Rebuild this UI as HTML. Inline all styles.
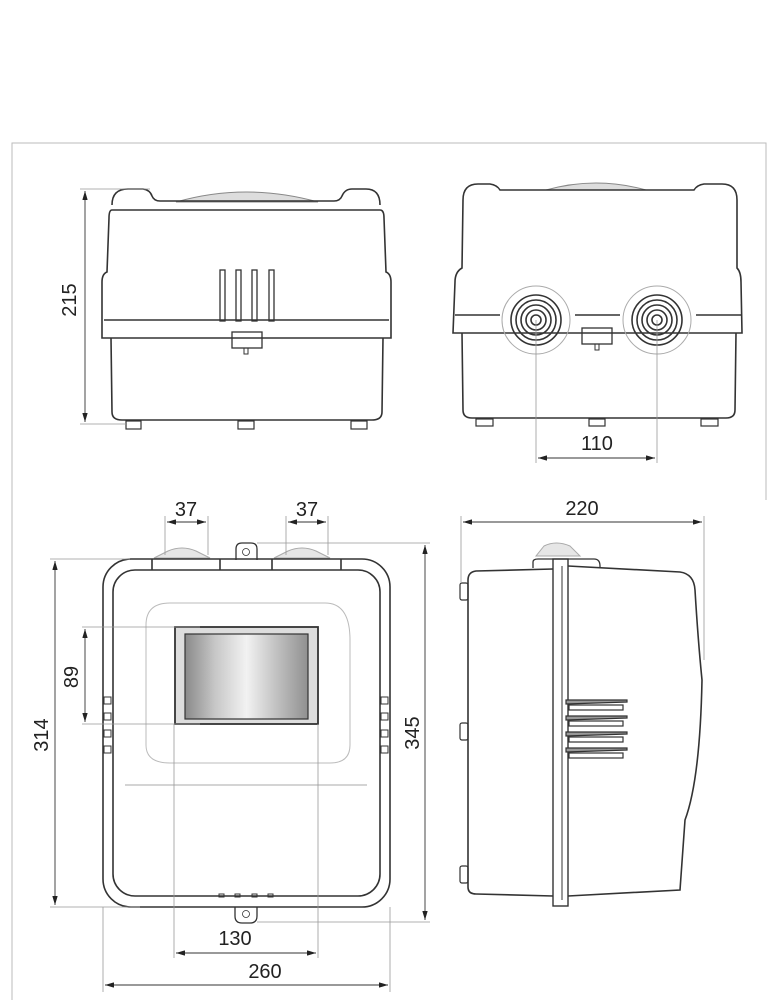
<!DOCTYPE html>
<html><head><meta charset="utf-8"><style>
html,body{margin:0;padding:0;background:#fff;}
svg{display:block;}
text{font-family:"Liberation Sans",sans-serif;font-size:20px;fill:#222;}
</style></head><body>
<svg width="780" height="1000" viewBox="0 0 780 1000" xmlns="http://www.w3.org/2000/svg">
<defs>
<marker id="a" viewBox="0 0 10 6" refX="10" refY="3" markerWidth="10" markerHeight="6" orient="auto-start-reverse"><path d="M0,0 L10,3 L0,6 z" fill="#222"/></marker>
<linearGradient id="g" x1="0" x2="1" y1="0" y2="0">
<stop offset="0" stop-color="#8a8a8a"/><stop offset="0.25" stop-color="#c8c8c8"/><stop offset="0.5" stop-color="#f2f2f2"/><stop offset="0.75" stop-color="#c0c0c0"/><stop offset="1" stop-color="#909090"/></linearGradient>
</defs>
<path d="M12,1000 L12,143 L766,143 L766,500" fill="none" stroke="#bbb" stroke-width="1"/>
<g fill="none" stroke="#333" stroke-width="1.6">
<!-- View 1 -->
<path d="M176,202 Q246,182 318,202 Z" fill="#ddd" stroke="#888" stroke-width="1"/>
<path d="M112,205 Q112,189 128,189 L143,189 Q150,190 152,196 Q154,201 160,201 L334,201 Q340,201 342,196 Q345,189 352,189 L366,189 Q380,189 380,205"/>
<path d="M112,210 L380,210 Q384,210 384,218 L386,272 Q391,274 391,282 L391,338 L102,338 L102,282 Q102,274 107,272 L109,218 Q109,210 112,210"/>
<line x1="104" y1="320" x2="389" y2="320"/>
<path d="M111,338 L112,412 Q112,420 122,420 L372,420 Q382,420 382,412 L383,338"/>
<rect x="220" y="270" width="5" height="51" stroke-width="1.3"/>
<rect x="236" y="270" width="5" height="51" stroke-width="1.3"/>
<rect x="252" y="270" width="5" height="51" stroke-width="1.3"/>
<rect x="269" y="270" width="5" height="51" stroke-width="1.3"/>
<rect x="232" y="332" width="30" height="16" stroke-width="1.3"/>
<rect x="244" y="348" width="4" height="6" stroke-width="1"/>
<rect x="126" y="421" width="15" height="8" stroke-width="1.2"/>
<rect x="238" y="421" width="16" height="8" stroke-width="1.2"/>
<rect x="351" y="421" width="16" height="8" stroke-width="1.2"/>
<!-- View 2 -->
<path d="M546,190 Q596,176 646,190 Z" fill="#ddd" stroke="#888" stroke-width="1"/>
<path d="M463,200 Q463,184 478,184 L490,184 Q497,185 500,190 L694,190 Q697,185 704,184 L722,184 Q737,184 737,200"/>
<path d="M463,200 L462,268 Q455,272 455,282 L453,333 L742,333 L741,282 Q741,272 737,268 L737,200"/>
<line x1="455" y1="315" x2="500" y2="315"/><line x1="696" y1="315" x2="741" y2="315"/>
<line x1="575" y1="315" x2="620" y2="315"/>
<path d="M462,333 L463,410 Q463,418 472,418 L726,418 Q735,418 735,410 L736,333"/>
<circle cx="536" cy="320" r="34" stroke="#aaa" stroke-width="1"/>
<circle cx="657" cy="320" r="34" stroke="#aaa" stroke-width="1"/>
<g stroke-width="1.6">
<circle cx="536" cy="320" r="25"/><circle cx="536" cy="320" r="20"/><circle cx="536" cy="320" r="15"/><circle cx="536" cy="320" r="10"/><circle cx="536" cy="320" r="5"/>
<circle cx="657" cy="320" r="25"/><circle cx="657" cy="320" r="20"/><circle cx="657" cy="320" r="15"/><circle cx="657" cy="320" r="10"/><circle cx="657" cy="320" r="5"/>
</g>
<rect x="582" y="328" width="30" height="16" stroke-width="1.3"/>
<rect x="595" y="344" width="4" height="6" stroke-width="1"/>
<rect x="476" y="419" width="17" height="7" stroke-width="1.2"/>
<rect x="589" y="419" width="16" height="7" stroke-width="1.2"/>
<rect x="701" y="419" width="17" height="7" stroke-width="1.2"/>
<!-- View 3 front -->
<path d="M168,551 Q182,545 196,551 L210,558 L154,558 Z" fill="#e6e6e6" stroke="#aaa" stroke-width="1"/>
<path d="M288,551 Q302,545 316,551 L330,558 L274,558 Z" fill="#e6e6e6" stroke="#aaa" stroke-width="1"/>
<path d="M236,560 L236,549 Q236,543 242,543 L251,543 Q257,543 257,549 L257,560" stroke-width="1.3"/>
<circle cx="246" cy="552" r="3.5" stroke-width="0.8"/>
<rect x="103" y="559" width="287" height="348" rx="28"/>
<rect x="113" y="570" width="267" height="326" rx="22"/>
<line x1="152" y1="559" x2="152" y2="570"/><line x1="220" y1="559" x2="220" y2="570"/>
<line x1="272" y1="559" x2="272" y2="570"/><line x1="341" y1="559" x2="341" y2="570"/>
<path d="M146,625 Q146,603 170,603 L325,603 Q350,603 350,640 L350,745 Q350,763 330,763 L170,763 Q146,763 146,745 Z" stroke="#bbb" stroke-width="1"/>
<rect x="175" y="627" width="143" height="97" fill="#ddd" stroke-width="1.8"/>
<rect x="185" y="634" width="123" height="85" fill="url(#g)" stroke-width="1.2"/>
<line x1="125" y1="785" x2="367" y2="785" stroke="#aaa" stroke-width="1"/>
<g stroke-width="1">
<rect x="104" y="697" width="7" height="7"/><rect x="104" y="713" width="7" height="7"/><rect x="104" y="730" width="7" height="7"/><rect x="104" y="746" width="7" height="7"/>
<rect x="381" y="697" width="7" height="7"/><rect x="381" y="713" width="7" height="7"/><rect x="381" y="730" width="7" height="7"/><rect x="381" y="746" width="7" height="7"/>
<rect x="219" y="894" width="5" height="3"/><rect x="235" y="894" width="5" height="3"/><rect x="252" y="894" width="5" height="3"/><rect x="268" y="894" width="5" height="3"/>
</g>
<path d="M235,907 L235,916 Q235,923 242,923 L250,923 Q257,923 257,916 L257,907" stroke-width="1.3"/>
<circle cx="246" cy="914" r="3.5" stroke-width="0.8"/>
<!-- View 4 side -->
<path d="M544,546 Q556,540 570,546 L580,556 L536,556 Z" fill="#e6e6e6" stroke="#aaa" stroke-width="1"/>
<path d="M533,568 L533,562 Q533,559 538,559 L594,559 Q600,559 600,566 L600,568" stroke-width="1.3"/>
<path d="M553,569 L476,571 Q468,572 468,580 L468,887 Q468,894 476,894 L553,896"/>
<path d="M568,566 L680,572 Q694,574 695,590 Q698,640 702,680 Q700,780 685,820 L680,890 L568,896"/>
<rect x="553" y="559" width="15" height="347" stroke-width="1.4"/>
<line x1="562" y1="566" x2="562" y2="900" stroke-width="1"/>
<rect x="460" y="583" width="8" height="17" rx="2" stroke-width="1.2"/>
<rect x="460" y="723" width="8" height="17" rx="2" stroke-width="1.2"/>
<rect x="460" y="866" width="8" height="17" rx="2" stroke-width="1.2"/>
<g stroke-width="1.2">
<path d="M566,700 L627,700 L627,702 L566,704 Z" fill="#999"/><rect x="569" y="705" width="54" height="5"/>
<path d="M566,716 L627,716 L627,718 L566,720 Z" fill="#999"/><rect x="569" y="721" width="54" height="5"/>
<path d="M566,732 L627,732 L627,734 L566,736 Z" fill="#999"/><rect x="569" y="737" width="54" height="5"/>
<path d="M566,748 L627,748 L627,750 L566,752 Z" fill="#999"/><rect x="569" y="753" width="54" height="5"/>
</g>
</g>
<g stroke="#999" stroke-width="0.8" fill="none">
<line x1="80" y1="189" x2="150" y2="189"/><line x1="80" y1="424" x2="126" y2="424"/>
<line x1="536" y1="320" x2="536" y2="463"/><line x1="657" y1="320" x2="657" y2="463"/>
<line x1="165" y1="516" x2="165" y2="555"/><line x1="208" y1="516" x2="208" y2="555"/>
<line x1="286" y1="516" x2="286" y2="555"/><line x1="328" y1="516" x2="328" y2="555"/>
<line x1="257" y1="543" x2="430" y2="543"/><line x1="257" y1="922" x2="430" y2="922"/>
<line x1="50" y1="559" x2="130" y2="559"/><line x1="50" y1="907" x2="140" y2="907"/>
<line x1="82" y1="627" x2="200" y2="627"/><line x1="82" y1="724" x2="200" y2="724"/>
<line x1="174" y1="724" x2="174" y2="958"/><line x1="318" y1="724" x2="318" y2="958"/>
<line x1="103" y1="907" x2="103" y2="992"/><line x1="390" y1="907" x2="390" y2="992"/>
<line x1="461" y1="516" x2="461" y2="583"/><line x1="704" y1="516" x2="704" y2="660"/>
</g>
<g stroke="#333" stroke-width="0.9" marker-start="url(#a)" marker-end="url(#a)">
<line x1="85" y1="191" x2="85" y2="422"/>
<line x1="538" y1="458" x2="655" y2="458"/>
<line x1="167" y1="522" x2="206" y2="522"/>
<line x1="288" y1="522" x2="326" y2="522"/>
<line x1="55" y1="561" x2="55" y2="905"/>
<line x1="425" y1="545" x2="425" y2="920"/>
<line x1="85" y1="629" x2="85" y2="722"/>
<line x1="176" y1="953" x2="316" y2="953"/>
<line x1="105" y1="985" x2="388" y2="985"/>
<line x1="463" y1="522" x2="702" y2="522"/>
</g>
<text x="78" y="300" text-anchor="middle" transform="rotate(-90 78 300)" dy="-2">215</text>
<text x="597" y="450" text-anchor="middle">110</text>
<text x="186" y="516" text-anchor="middle">37</text>
<text x="307" y="516" text-anchor="middle">37</text>
<text x="48" y="735" text-anchor="middle" transform="rotate(-90 48 735)">314</text>
<text x="419" y="733" text-anchor="middle" transform="rotate(-90 419 733)">345</text>
<text x="78" y="677" text-anchor="middle" transform="rotate(-90 78 677)">89</text>
<text x="235" y="945" text-anchor="middle">130</text>
<text x="265" y="978" text-anchor="middle">260</text>
<text x="582" y="515" text-anchor="middle">220</text>
</svg>
</body></html>
